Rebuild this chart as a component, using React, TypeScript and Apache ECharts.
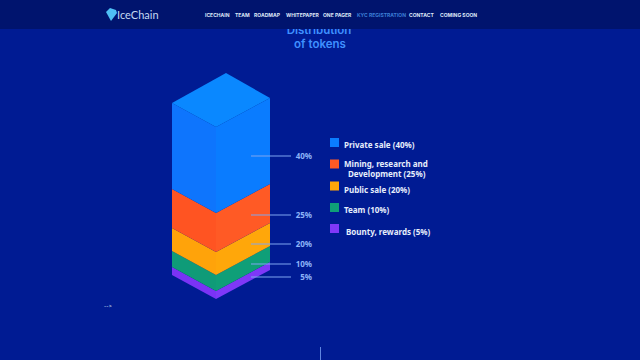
import React, { useEffect, useRef } from "react";
import * as echarts from "echarts";

const shares = [40, 25, 20, 10, 5];
const layerHeights = [86, 39, 23, 16, 8];
const legendNames = [
  "Private sale (40%)",
  "Mining, research and\nDevelopment (25%)",
  "Public sale (20%)",
  "Team (10%)",
  "Bounty, rewards (5%)",
];
const navItems = ["ICECHAIN", "TEAM", "ROADMAP", "WHITEPAPER", "ONE PAGER", "KYC REGISTRATION", "CONTACT", "COMING SOON"];
const navX = [205, 235, 254, 286, 323, 357, 409, 440];
const leftColors = ["#0e75fd", "#ff5422", "#ffa30a", "#0f9b78", "#7a33f5"];
const rightColors = ["#0a7cff", "#ff5a25", "#ffa70a", "#0f9f78", "#7f38f8"];
const leaderLevels = [29, 88, 117, 137, 150];
const legendY = [142.5, 164, 186, 207.5, 228.5];
const legendTextY = [144, 168, 189, 209.5, 231];
const legendTextX = [344, 344, 344, 344, 346];

const BG = "#001b93";
const FRONT_X = 216;
const TOP_Y = 127;

export default function App() {
  const ref = useRef<HTMLDivElement>(null);
  useEffect(() => {
    document.body.style.margin = "0";
    const chart = echarts.init(ref.current!, undefined, { renderer: "svg" });

    const starts: number[] = [];
    let acc = 0;
    layerHeights.forEach((h) => {
      starts.push(acc);
      acc += h;
    });
    const layerData = layerHeights.map((h, i) => [i, starts[i], starts[i] + h]).reverse();
    const leaderData = shares.map((s, i) => [s, leaderLevels[i]]);

    chart.setOption({
      animation: false,
      backgroundColor: BG,
      grid: { left: 0, right: 0, top: 0, bottom: 0 },
      xAxis: { type: "value", min: -FRONT_X, max: 640 - FRONT_X, show: false },
      yAxis: { type: "value", min: -TOP_Y, max: 360 - TOP_Y, inverse: true, show: false },
      series: [
        {
          type: "custom",
          name: "Stack",
          coordinateSystem: "cartesian2d",
          data: layerData,
          encode: { x: 1, y: 2 },
          clip: false,
          renderItem: (_: any, api: any) => {
            const i = api.value(0);
            const a = api.value(1);
            const b = api.value(2);
            const P = (x: number, y: number) => api.coord([x, y]);
            const dxL = -44, dyL = -24, dxR = 54, dyR = -29;
            const children: any[] = [
              {
                type: "polygon",
                shape: { points: [P(0, a), P(dxL, a + dyL), P(dxL, b + dyL), P(0, b)] },
                style: { fill: leftColors[i] },
              },
              {
                type: "polygon",
                shape: { points: [P(0, a), P(dxR, a + dyR), P(dxR, b + dyR), P(0, b)] },
                style: { fill: rightColors[i] },
              },
            ];
            if (i === 0) {
              children.push({
                type: "polygon",
                shape: { points: [P(0, 0), P(dxL, dyL), P(10, -54), P(dxR, dyR)] },
                style: { fill: "#0a88ff" },
              });
            }
            return { type: "group", children };
          },
          z: 2,
        },
        {
          type: "custom",
          name: "Leaders",
          coordinateSystem: "cartesian2d",
          data: leaderData,
          encode: { y: 1 },
          clip: false,
          renderItem: (_: any, api: any) => {
            const s = api.value(0);
            const y = api.value(1);
            const p0 = api.coord([35, y]);
            const p1 = api.coord([75, y]);
            const p2 = api.coord([96, y]);
            return {
              type: "group",
              children: [
                {
                  type: "line",
                  shape: { x1: p0[0], y1: p0[1], x2: p1[0], y2: p1[1] },
                  style: { stroke: "#7ea6f0", lineWidth: 1 },
                },
                {
                  type: "text",
                  style: {
                    x: p2[0],
                    y: p2[1] - 1,
                    text: `${s}%`,
                    fill: "#8db4f7",
                    font: "bold 8px 'Noto Sans', sans-serif",
                    align: "right",
                    verticalAlign: "middle",
                  },
                },
              ],
            };
          },
          z: 3,
        },
      ],
      graphic: [
        {
          type: "text",
          z: 5,
          style: { x: 319, y: 30, text: "Distribution", fill: "#3f90ff", font: "600 11.5px Inter, sans-serif", align: "center", verticalAlign: "middle" },
        },
        {
          type: "text",
          z: 5,
          style: { x: 320, y: 44, text: "of tokens", fill: "#3f90ff", font: "600 11.5px Inter, sans-serif", align: "center", verticalAlign: "middle" },
        },
        { type: "rect", z: 6, shape: { x: 0, y: 0, width: 640, height: 29 }, style: { fill: "#00146e" } },
        {
          type: "polygon",
          z: 7,
          shape: { points: [[106, 12], [110, 8], [116, 10], [117, 13], [111, 21]] },
          style: { fill: "#4fc0f5" },
        },
        {
          type: "text",
          z: 7,
          style: { x: 117, y: 14.5, text: "IceChain", fill: "#c5d8f2", font: "11px Lato, sans-serif", verticalAlign: "middle" },
        },
        ...navItems.map((t, i) => ({
          type: "text",
          z: 7,
          style: {
            x: navX[i],
            y: 14.5,
            text: t,
            fill: i === 5 ? "#3c7fd6" : "#dfe8f8",
            font: "bold 5px Inter, sans-serif",
            verticalAlign: "middle",
          },
        })),
        ...legendNames.map((_, i) => ({
          type: "rect",
          z: 4,
          shape: { x: 330, y: legendY[i] - 4.5, width: 9, height: 9 },
          style: { fill: rightColors[i] },
        })),
        ...legendNames.map((t, i) => {
          const lines = t.split("\n");
          return {
            type: "group",
            z: 4,
            children: lines.map((line, k) => ({
              type: "text",
              style: {
                x: k === 0 ? legendTextX[i] : 348,
                y: legendTextY[i] - 5 * (lines.length - 1) + k * 10,
                text: line,
                fill: "#e6eefc",
                font: "bold 8px 'Noto Sans', sans-serif",
                verticalAlign: "middle",
              },
            })),
          };
        }),
        {
          type: "text",
          z: 4,
          style: { x: 104, y: 305, text: "-->", fill: "#dfe8f8", font: "6px Lato, sans-serif", verticalAlign: "middle" },
        },
        {
          type: "line",
          z: 4,
          shape: { x1: 320.5, y1: 347, x2: 320.5, y2: 360 },
          style: { stroke: "#5f86e0", lineWidth: 1 },
        },
      ],
    });
    return () => chart.dispose();
  }, []);
  return <div ref={ref} style={{ width: 640, height: 360 }} />;
}
